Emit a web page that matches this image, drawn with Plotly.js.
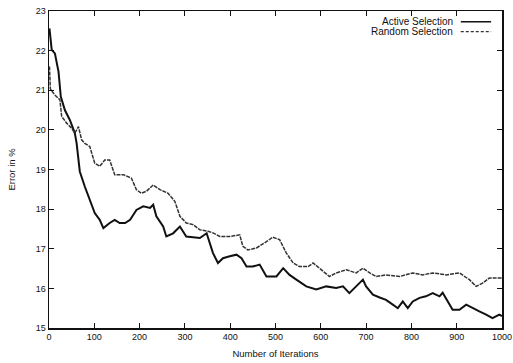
<!DOCTYPE html>
<html>
<head>
<meta charset="utf-8">
<script src="https://cdn.plot.ly/plotly-3.0.1.min.js"></script>
<style>html,body{margin:0;padding:0;background:#fff;}#chart{width:513px;height:363px;}</style>
</head>
<body>
<div id="chart"></div>
<script>
// Active Selection (lower curve, solid)
var activeIter = [1,6,13,21,26,35,46,57,61,68,79,90,101,112,120,134,145,156,168,179,193,208,223,230,237,252,259,274,289,303,318,333,348,362,373,384,399,414,425,436,450,465,480,502,517,531,546,568,590,612,634,649,663,678,693,700,715,730,744,759,770,781,792,803,818,832,847,862,869,891,906,921,935,950,965,979,994,1000];
var activeErr  = [22.56,22.02,21.93,21.47,20.84,20.50,20.25,19.92,19.66,18.95,18.57,18.24,17.90,17.73,17.52,17.65,17.73,17.65,17.65,17.73,17.98,18.07,18.03,18.11,17.82,17.56,17.31,17.39,17.56,17.31,17.29,17.27,17.39,16.89,16.64,16.76,16.81,16.85,16.76,16.55,16.55,16.60,16.30,16.30,16.51,16.34,16.22,16.05,15.97,16.05,16.01,16.05,15.88,16.05,16.22,16.05,15.84,15.77,15.71,15.59,15.50,15.67,15.50,15.67,15.76,15.80,15.88,15.80,15.89,15.46,15.46,15.59,15.50,15.42,15.34,15.25,15.34,15.30];
// Random Selection (upper curve, dashed)
var randomIter = [1,3,13,24,28,39,50,57,65,72,79,90,101,112,123,134,145,164,182,193,204,215,230,245,263,278,289,303,318,333,351,362,377,399,421,428,439,458,480,494,509,524,539,553,572,583,597,619,634,656,678,693,708,722,744,774,803,825,847,877,906,928,943,957,972,994,1000];
var randomErr  = [21.60,21.03,20.88,20.76,20.34,20.17,20.04,19.92,20.08,19.75,19.66,19.58,19.16,19.08,19.24,19.24,18.87,18.87,18.78,18.49,18.40,18.45,18.61,18.49,18.40,18.19,17.82,17.65,17.61,17.48,17.44,17.40,17.31,17.31,17.35,17.06,16.97,17.02,17.18,17.29,17.23,16.89,16.64,16.55,16.55,16.64,16.51,16.30,16.39,16.47,16.39,16.51,16.39,16.30,16.34,16.30,16.39,16.34,16.39,16.34,16.39,16.22,16.05,16.13,16.26,16.26,16.26];
var xTicks = [0,100,200,300,400,500,600,700,800,900,1000];
var yTicks = [15,16,17,18,19,20,21,22,23];
var seriesNames = ['Active Selection', 'Random Selection'];

var font = 'Liberation Sans, Arial, sans-serif';
var traces = [
  {x: activeIter, y: activeErr, type: 'scatter', mode: 'lines', name: seriesNames[0],
   line: {color: '#111', width: 2}, showlegend: false},
  {x: randomIter, y: randomErr, type: 'scatter', mode: 'lines', name: seriesNames[1],
   line: {color: '#333', width: 1.5, dash: '4px,1px'}, showlegend: false}
];

var layout = {
  width: 513, height: 363,
  margin: {l: 49, r: 11, t: 11, b: 35},
  paper_bgcolor: '#fff', plot_bgcolor: '#fff',
  font: {family: font, color: '#111', size: 9},
  xaxis: {
    range: [0, 1000], tickvals: xTicks, ticktext: xTicks.map(String),
    showgrid: false, zeroline: false, showline: true, linecolor: '#111', linewidth: 1.5,
    mirror: 'allticks', ticks: 'inside', ticklen: 5, tickcolor: '#111',
    tickfont: {size: 9, family: font, color: '#111'},
    title: {text: 'Number of Iterations', font: {size: 9.5, family: font, color: '#111'}, standoff: 9}
  },
  yaxis: {
    range: [15, 23], tickvals: yTicks, ticktext: yTicks.map(String),
    showgrid: false, zeroline: false, showline: true, linecolor: '#111', linewidth: 1.5,
    mirror: 'allticks', ticks: 'inside', ticklen: 5, tickcolor: '#111',
    tickfont: {size: 9, family: font, color: '#111'},
    title: {text: 'Error in %', font: {size: 9.5, family: font, color: '#111'}, standoff: 18}
  },
  annotations: [
    {xref: 'paper', yref: 'paper', x: 0.896, y: 0.966, xanchor: 'right', yanchor: 'middle',
     text: seriesNames[0], showarrow: false, font: {size: 10, family: font, color: '#111'}},
    {xref: 'paper', yref: 'paper', x: 0.896, y: 0.935, xanchor: 'right', yanchor: 'middle',
     text: seriesNames[1], showarrow: false, font: {size: 10, family: font, color: '#111'}}
  ],
  shapes: [
    {type: 'line', xref: 'paper', yref: 'paper', x0: 0.909, x1: 0.976, y0: 0.966, y1: 0.966,
     line: {color: '#111', width: 1.5}},
    {type: 'line', xref: 'paper', yref: 'paper', x0: 0.909, x1: 0.976, y0: 0.935, y1: 0.935,
     line: {color: '#333', width: 1.2, dash: '3px,2px'}}
  ]
};

Plotly.newPlot('chart', traces, layout, {displayModeBar: false, staticPlot: true});
</script>
</body>
</html>
